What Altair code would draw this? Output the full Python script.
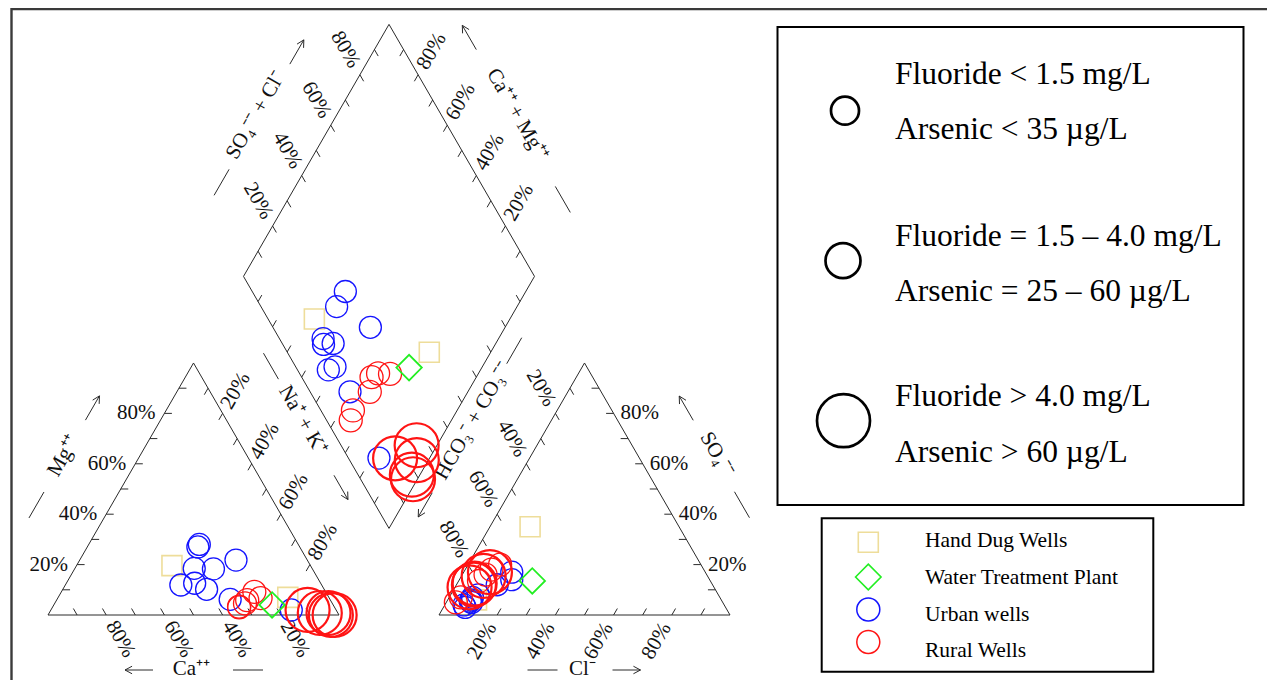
import math
import altair as alt
import pandas as pd

# ---------------- data (percent of meq/L) ----------------
sample_type = (["Hand Dug Wells"] * 2 + ["Urban wells"] * 10 + ["Rural Wells"] * 11
               + ["Water Treatment Plant"])
fluoride_class = [0, 0] + [0] * 10 + [1] * 6 + [2] * 5 + [1]
ca_pct = [47.6, 14.1,
          35, 34, 24.5, 48.4, 40.5, 43.3, 34, 40.4, 34.3, 15.4,
          32.7, 28.6, 23.6, 24.5, 32.8, 30,
          6.2, 9.8, 3.2, 2.8, 1.5,
          21]
mg_pct = [19.6, 7,
          27, 28, 21.8, 11.9, 18.5, 12.6, 18.3, 10.2, 6.2, 2,
          3.3, 5.9, 6.7, 9.2, 3, 4.6,
          0.8, 2, 0.8, 0, 0,
          4]
so4_pct = [6, 35,
           14, 12, 17, 7, 6, 8, 4, 5.5, 5, 3,
           16, 18, 20, 13.5, 7, 5,
           17, 11, 15.5, 12.5, 12,
           13.5]
cl_pct = [9.9, 13.8,
          18, 14, 16.5, 8, 8, 9.5, 6.6, 8, 8.7, 7.5,
          8, 9, 11, 7, 4, 3.3,
          9, 5, 7.6, 6, 6,
          25.3]

type_names = ["Hand Dug Wells", "Water Treatment Plant", "Urban wells", "Rural Wells"]
type_colors = ["#eedd9a", "#22ee22", "#1414ff", "#ff1414"]
type_shapes = ["square", "diamond", "circle", "circle"]

tick_values = [20, 40, 60, 80]

size_legend_lines = [
    ["Fluoride < 1.5 mg/L", "Arsenic < 35 µg/L"],
    ["Fluoride = 1.5 – 4.0 mg/L", "Arsenic = 25 – 60 µg/L"],
    ["Fluoride > 4.0 mg/L", "Arsenic > 60 µg/L"],
]

# ---------------- geometry (units: triangle side = 100) ----------------
K = 2.91                       # pixels per unit
OX, OY = 48.0, 615.0           # page-pixel position of the cation triangle's left corner
SQ = math.sqrt(3) / 2
H = 100 * SQ
GAP = 100 / K

def ux(px):
    return (px - OX) / K

def uy(py):
    return (OY - py) / K

def off(dx, dy):
    return (dx / K, -dy / K)

def lerp(a, b, t):
    return (a[0] + (b[0] - a[0]) * t, a[1] + (b[1] - a[1]) * t)

def plus(p, v, s=1.0):
    return (p[0] + v[0] * s, p[1] + v[1] * s)

def unit(a, b):
    dx, dy = b[0] - a[0], b[1] - a[1]
    l = math.hypot(dx, dy)
    return (dx / l, dy / l)

def rot(v, deg):
    r = math.radians(deg)
    return (v[0] * math.cos(r) - v[1] * math.sin(r), v[0] * math.sin(r) + v[1] * math.cos(r))

CL, CR, CA = (0.0, 0.0), (100.0, 0.0), (50.0, H)
AL, AR, AA = (100 + GAP, 0.0), (200 + GAP, 0.0), (150 + GAP, H)
D0 = (100 + GAP / 2, GAP * SQ)
DL = plus(D0, (-50, H))
DR = plus(D0, (50, H))
DT = plus(D0, (0, 2 * H))

W_PX, H_PX = 1259, 672
XMIN, XMAX = ux(8), ux(8 + W_PX)
YMIN, YMAX = uy(8 + H_PX), uy(8)

# ---------------- structure lines ----------------
seg = []

def add_seg(p, q):
    seg.append(dict(x=p[0], y=p[1], x2=q[0], y2=q[1]))

edges = [
    (CL, CA, (1, 0)), (CL, CR, (-0.5, SQ)), (CA, CR, (-0.5, -SQ)),
    (AL, AA, (0.5, -SQ)), (AL, AR, (0.5, SQ)), (AR, AA, (-1, 0)),
    (DL, DT, (0.5, -SQ)), (DT, DR, (-0.5, -SQ)), (D0, DL, (0.5, SQ)), (D0, DR, (-0.5, SQ)),
]
TL = 7.5 / K
for p, q, d in edges:
    add_seg(p, q)
    for i in range(1, 10):
        pt = lerp(p, q, i / 10)
        add_seg(pt, plus(pt, d, TL))

# ---------------- tick labels ----------------
lab_c, lab_r, lab_l = [], [], []
for v in tick_values:
    t = v / 100
    txt = f"{v}%"
    specs = [
        (lerp(CR, CL, t), off(14, 24.2), 60),
        (lerp(CA, CR, t), off(13, -22.5), 300),
        (lerp(AA, AL, t), off(-14.5, -25.1), 60),
        (lerp(AL, AR, t), off(-15, 26), 300),
        (lerp(DL, DT, t), off(-14.5, -25.1), 60),
        (lerp(DR, DT, t), off(13.5, -23.4), 300),
    ]
    for pt, o, ang in specs:
        c = plus(pt, o)
        lab_c.append(dict(x=c[0], y=c[1], text=txt, angle=ang))
    pr = plus(lerp(CL, CA, t), off(-9, 0))
    lab_r.append(dict(x=pr[0], y=pr[1], text=txt))
    pl = plus(lerp(AR, AA, t), off(7, 0))
    lab_l.append(dict(x=pl[0], y=pl[1], text=txt))

# ---------------- axis titles with arrows ----------------
# P0, P100, outward normal, n_title, n_marks, a_title, a_dash, a_arrow, text, angle
title_specs = [
    (CL, CA, (-SQ, 0.5), 66, 65, 0, -56, 56, "Mg⁺⁺", 300),
    (CR, CL, (0, -1), 54, 55, 2, -54.5, 54.5, "Ca⁺⁺", 0),
    (CA, CR, (SQ, 0.5), 66, 65.5, -41.5, -104, 36, "Na⁺ + K⁺", 60),
    (AA, AL, (-SQ, 0.5), 67.5, 67, -39.5, -121, 57, "HCO₃⁻ + CO₃⁻⁻", 300),
    (AL, AR, (0, -1), 54, 55, -2, -42, 42, "Cl⁻", 0),
    (AR, AA, (SQ, 0.5), 69, 65.5, 0, -56, 55.5, "SO₄⁻⁻", 60),
    (DL, DT, (-SQ, 0.5), 70, 66, 0, -75, 75.5, "SO₄⁻⁻ + Cl⁻", 300),
    (DR, DT, (SQ, 0.5), 66, 63, 3, -93, 94, "Ca⁺⁺ + Mg⁺⁺", 60),
]
titles = []
for p0, p1, nrm, nt, nm, at, ad, aa, txt, ang in title_specs:
    m = lerp(p0, p1, 0.5)
    e = unit(p0, p1)
    c = plus(plus(m, nrm, nt / K), e, at / K)
    titles.append(dict(x=c[0], y=c[1], text=txt, angle=ang))
    base = plus(m, nrm, nm / K)
    cd = plus(base, e, ad / K)
    add_seg(plus(cd, e, -15 / K), plus(cd, e, 15 / K))
    ca_ = plus(base, e, aa / K)
    tip = plus(ca_, e, 14 / K)
    add_seg(plus(ca_, e, -14 / K), tip)
    add_seg(tip, plus(tip, rot(e, 28), -8 / K))
    add_seg(tip, plus(tip, rot(e, -28), -8 / K))

# ---------------- sample positions ----------------
circle_size = {0: 484, 1: 529, 2: 1936}
circle_sw = {0: 1.3, 1: 1.3, 2: 2.2}
rows = []
for i, st in enumerate(sample_type):
    ca, mg, so4, cl = ca_pct[i], mg_pct[i], so4_pct[i], cl_pct[i]
    na = 100 - ca - mg
    cm, sc = ca + mg, so4 + cl
    if st == "Hand Dug Wells":
        ms, sw = 400, 1.6
    elif st == "Water Treatment Plant":
        ms, sw = 650, 1.8
    else:
        ms, sw = circle_size[fluoride_class[i]], circle_sw[fluoride_class[i]]
    pts = [
        (na + mg / 2, mg * SQ),
        (100 + GAP + cl + so4 / 2, so4 * SQ),
        (D0[0] + 0.5 * (sc - cm), D0[1] + SQ * (sc + cm)),
    ]
    for x, y in pts:
        rows.append(dict(x=x, y=y, type=st, msize=ms, msw=sw))
pts_df = pd.DataFrame(rows)

# ---------------- legends ----------------
leg_marks = pd.DataFrame([
    dict(x=ux(868.3), y=uy(542.3), type="Hand Dug Wells", msize=400, msw=1.6),
    dict(x=ux(868.3), y=uy(577), type="Water Treatment Plant", msize=650, msw=1.6),
    dict(x=ux(868.3), y=uy(609.5), type="Urban wells", msize=529, msw=1.5),
    dict(x=ux(868.3), y=uy(642), type="Rural Wells", msize=529, msw=1.5),
])
leg_text2 = pd.DataFrame([
    dict(x=ux(925), y=uy(yy), text=t)
    for yy, t in zip([541, 578, 615, 651],
                     ["Hand Dug Wells", "Water Treatment Plant", "Urban wells", "Rural Wells"])
])
size_circles = pd.DataFrame([
    dict(x=ux(845), y=uy(110.7), msize=784),
    dict(x=ux(843), y=uy(260.7), msize=1225),
    dict(x=ux(843.5), y=uy(420.7), msize=2809),
])
ys_top = [[75, 130], [236.7, 291.7], [396.7, 453.3]]
leg_text1 = pd.DataFrame([
    dict(x=ux(895), y=uy(ys_top[g][k]), text=size_legend_lines[g][k])
    for g in range(3) for k in range(2)
])
boxes = pd.DataFrame([
    dict(x=ux(777.5), y=uy(27), x2=ux(1243.5), y2=uy(505)),
    dict(x=ux(821.7), y=uy(518.3), x2=ux(1153.3), y2=uy(671.7)),
])
frame = pd.DataFrame([
    dict(x=ux(11), y=uy(9), x2=ux(8 + W_PX), y2=uy(9)),
    dict(x=ux(11.5), y=uy(8), x2=ux(11.5), y2=uy(8 + H_PX)),
])

seg_df = pd.DataFrame(seg)

SERIF = "Liberation Serif"
X = alt.X("x:Q", scale=alt.Scale(domain=[XMIN, XMAX], nice=False, zero=False), axis=None)
Y = alt.Y("y:Q", scale=alt.Scale(domain=[YMIN, YMAX], nice=False, zero=False), axis=None)
COLOR = alt.Color("type:N", scale=alt.Scale(domain=type_names, range=type_colors), legend=None)
SHAPE = alt.Shape("type:N", scale=alt.Scale(domain=type_names, range=type_shapes), legend=None)

lines = alt.Chart(seg_df).mark_rule(color="#2a2a2a", strokeWidth=1).encode(
    x=X, y=Y, x2=alt.X2("x2"), y2=alt.Y2("y2"))
frame_l = alt.Chart(frame).mark_rule(color="#3a3a3a", strokeWidth=2.4).encode(
    x=X, y=Y, x2=alt.X2("x2"), y2=alt.Y2("y2"))
box_l = alt.Chart(boxes).mark_rect(fillOpacity=0, stroke="black", strokeWidth=2).encode(
    x=X, y=Y, x2=alt.X2("x2"), y2=alt.Y2("y2"))

lab_c_l = alt.Chart(pd.DataFrame(lab_c)).mark_text(
    font=SERIF, fontSize=21, align="center", baseline="middle", color="#111111").encode(
    x=X, y=Y, text="text:N", angle=alt.Angle("angle:Q", scale=None))
lab_r_l = alt.Chart(pd.DataFrame(lab_r)).mark_text(
    font=SERIF, fontSize=21, align="right", baseline="middle", color="#111111").encode(
    x=X, y=Y, text="text:N")
lab_l_l = alt.Chart(pd.DataFrame(lab_l)).mark_text(
    font=SERIF, fontSize=21, align="left", baseline="middle", color="#111111").encode(
    x=X, y=Y, text="text:N")
title_l = alt.Chart(pd.DataFrame(titles)).mark_text(
    font=SERIF, fontSize=21, align="center", baseline="middle", color="#111111").encode(
    x=X, y=Y, text="text:N", angle=alt.Angle("angle:Q", scale=None))

points = alt.Chart(pts_df).mark_point(filled=False, opacity=1).encode(
    x=X, y=Y, color=COLOR, shape=SHAPE,
    size=alt.Size("msize:Q", scale=None), strokeWidth=alt.StrokeWidth("msw:Q", scale=None))
leg_pts = alt.Chart(leg_marks).mark_point(filled=False, opacity=1).encode(
    x=X, y=Y, color=COLOR, shape=SHAPE,
    size=alt.Size("msize:Q", scale=None), strokeWidth=alt.StrokeWidth("msw:Q", scale=None))
size_pts = alt.Chart(size_circles).mark_point(
    filled=False, opacity=1, color="black", shape="circle", strokeWidth=2.7).encode(
    x=X, y=Y, size=alt.Size("msize:Q", scale=None))
txt1 = alt.Chart(leg_text1).mark_text(
    font=SERIF, fontSize=31.5, align="left", baseline="middle", color="black").encode(
    x=X, y=Y, text="text:N")
txt2 = alt.Chart(leg_text2).mark_text(
    font=SERIF, fontSize=21.5, align="left", baseline="middle", color="black").encode(
    x=X, y=Y, text="text:N")

chart = alt.layer(
    frame_l, lines, lab_c_l, lab_r_l, lab_l_l, title_l, points,
    box_l, size_pts, txt1, leg_pts, txt2
).properties(
    width=W_PX, height=H_PX, padding=0,
    autosize=alt.AutoSizeParams(type="none"),
    background="white",
).configure_view(stroke="transparent")

chart.save("out.html", embed_options={"renderer": "svg", "actions": False})
